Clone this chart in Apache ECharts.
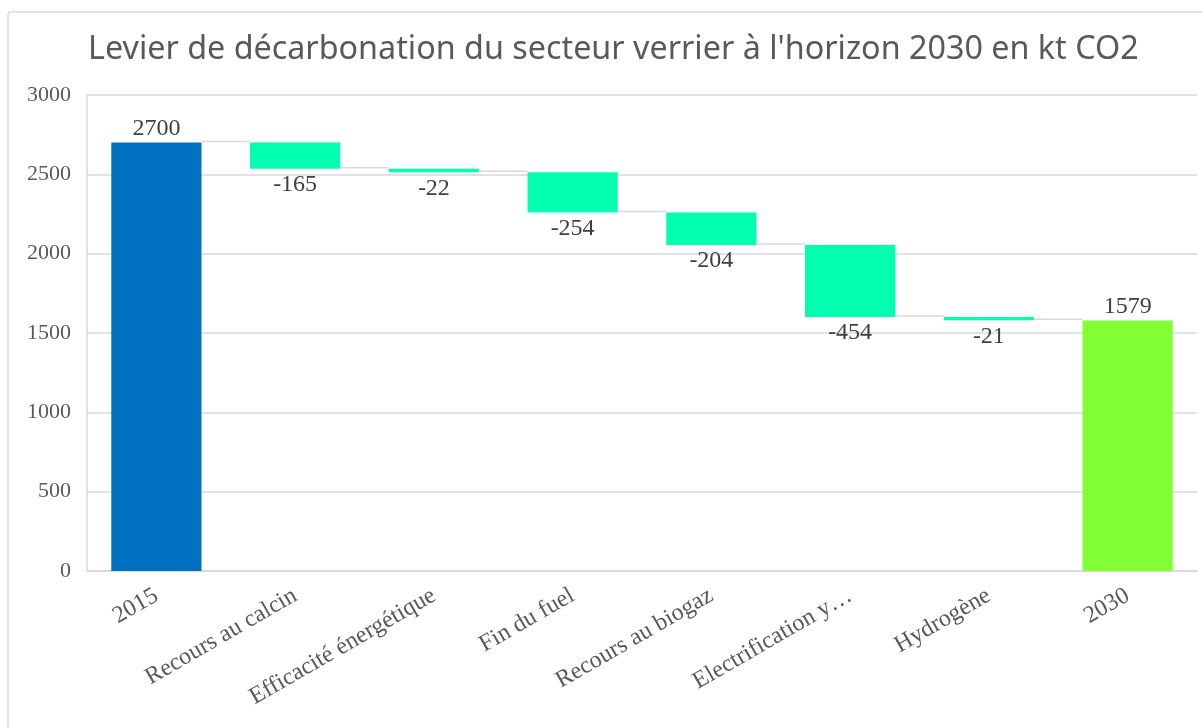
<!DOCTYPE html>
<html>
<head>
<meta charset="utf-8">
<script src="https://cdn.jsdelivr.net/npm/echarts@6/dist/echarts.min.js"></script>
<style>
  html, body { margin: 0; padding: 0; background: #fff; }
  #chart { width: 1202px; height: 727px; }
</style>
</head>
<body>
<div id="chart"></div>
<script>
// categories and values
var categories = ['2015', 'Recours au calcin', 'Efficacité énergétique', 'Fin du fuel',
  'Recours au biogaz', 'Electrification y…', 'Hydrogène', '2030'];
var values = [2700, -165, -22, -254, -204, -454, -21, 1579];
var yTicks = [0, 500, 1000, 1500, 2000, 2500, 3000];

var serif = '"Liberation Serif", "DejaVu Serif", serif';

// build waterfall: invisible base + visible bar, plus connector levels
var baseData = [], barData = [], connData = [];
var running = 0;
values.forEach(function (v, i) {
  var isTotal = (i === 0 || i === values.length - 1);
  if (isTotal) {
    baseData.push(0);
    barData.push({ value: v, orig: v, itemStyle: { color: i === 0 ? '#0070C0' : '#80FF33' }, label: { position: 'top', distance: 2 } });
    running = v;
  } else {
    baseData.push(running + v);
    barData.push({ value: -v, orig: v, itemStyle: { color: '#00FFAE' }, label: { position: 'bottom', distance: 4 } });
    running = running + v;
  }
  if (i < values.length - 1) connData.push([i, running]);
});

var chart = echarts.init(document.getElementById('chart'));
chart.setOption({
  animation: false,
  title: {
    text: "Levier de décarbonation du secteur verrier à l'horizon 2030 en kt CO2",
    left: 83,
    top: 29,
    textStyle: { fontFamily: '"Noto Sans", sans-serif', fontSize: 32.3, fontWeight: 'normal', color: '#595959' }
  },
  graphic: [{
    type: 'rect',
    shape: { x: 8, y: 12, width: 1210, height: 740, r: 3 },
    style: { fill: 'none', stroke: '#d9d9d9', lineWidth: 1.5 },
    silent: true
  }],
  grid: { left: 87, right: 5, top: 95, bottom: 156 },
  xAxis: {
    type: 'category',
    data: categories,
    axisLine: { lineStyle: { color: '#d9d9d9', width: 1.5 } },
    axisTick: { show: false },
    axisLabel: { interval: 0, rotate: 30, margin: 23, color: '#595959', fontFamily: serif, fontSize: 24 }
  },
  yAxis: {
    type: 'value',
    min: yTicks[0],
    max: yTicks[yTicks.length - 1],
    interval: 500,
    axisLine: { show: true, lineStyle: { color: '#d9d9d9', width: 1.5 } },
    axisTick: { show: false },
    splitLine: { lineStyle: { color: '#d9d9d9', width: 1.5 } },
    axisLabel: { margin: 16, color: '#595959', fontFamily: serif, fontSize: 22,
      formatter: function (v) { return String(v); } }
  },
  series: [{
    type: 'bar',
    stack: 'w',
    data: baseData,
    barWidth: '65%',
    itemStyle: { color: 'transparent' },
    silent: true
  }, {
    type: 'bar',
    stack: 'w',
    data: barData,
    barWidth: '65%',
    label: {
      show: true,
      color: '#404040',
      fontFamily: serif,
      fontSize: 24,
      formatter: function (p) { return String(p.data.orig); }
    }
  }, {
    type: 'custom',
    data: connData,
    silent: true,
    z: 1,
    renderItem: function (params, api) {
      var i = api.value(0), lvl = api.value(1);
      var p0 = api.coord([i, lvl]);
      var p1 = api.coord([i + 1, lvl]);
      var half = api.size([1, 0])[0] * 0.65 / 2;
      return {
        type: 'line',
        shape: { x1: p0[0] + half, y1: p0[1] - 1, x2: p1[0] - half, y2: p1[1] - 1 },
        style: { stroke: '#d9d9d9', lineWidth: 1.5 }
      };
    }
  }]
});
</script>
</body>
</html>
